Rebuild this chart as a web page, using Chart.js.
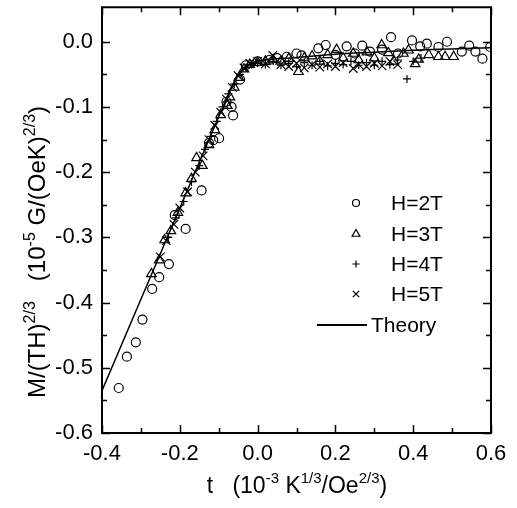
<!DOCTYPE html>
<html>
<head>
<meta charset="utf-8">
<script src="https://cdn.jsdelivr.net/npm/chart.js@4.4.0/dist/chart.umd.min.js"></script>
<style>
  html, body { margin: 0; padding: 0; background: #fff; }
  #wrap { width: 517px; height: 508px; }
</style>
</head>
<body>
<div id="wrap"><canvas id="magChart" width="517" height="508"></canvas></div>
<script>
// data: [t, M/(TH)^2/3]
const h2T = [
  [-0.357,-0.531],[-0.336,-0.483],[-0.313,-0.461],[-0.296,-0.426],[-0.271,-0.379],
  [-0.253,-0.361],[-0.228,-0.341],[-0.213,-0.266],[-0.185,-0.287],[-0.144,-0.228],
  [-0.125,-0.155],[-0.114,-0.151],[-0.099,-0.148],[-0.08,-0.092],[-0.067,-0.100],
  [-0.063,-0.113],[-0.045,-0.058],[-0.03,-0.036],[0.0,-0.030],[0.03,-0.028],
  [0.05,-0.025],[0.075,-0.023],[0.10,-0.018],[0.113,-0.021],[0.156,-0.010],
  [0.175,-0.005],[0.20,-0.020],[0.229,-0.007],[0.25,-0.018],[0.269,-0.006],
  [0.289,-0.015],[0.32,-0.012],[0.343,0.007],[0.361,-0.018],[0.397,0.002],
  [0.418,-0.007],[0.435,-0.003],[0.465,-0.008],[0.487,0.0],[0.525,-0.015],
  [0.544,-0.006],[0.56,-0.015],[0.578,-0.026],[0.598,-0.008]
];
const h3T = [
  [-0.273,-0.356],[-0.253,-0.335],[-0.239,-0.304],[-0.223,-0.290],[-0.205,-0.262],
  [-0.185,-0.232],[-0.17,-0.210],[-0.157,-0.178],[-0.142,-0.190],[-0.125,-0.158],
  [-0.11,-0.135],[-0.095,-0.112],[-0.078,-0.098],[-0.071,-0.085],[-0.06,-0.070],
  [-0.048,-0.055],[-0.035,-0.042],[-0.02,-0.035],[0.0,-0.032],[0.02,-0.030],
  [0.04,-0.028],[0.06,-0.030],[0.08,-0.026],[0.105,-0.046],[0.12,-0.025],
  [0.14,-0.022],[0.16,-0.030],[0.18,-0.020],[0.203,-0.012],[0.22,-0.025],
  [0.246,-0.018],[0.26,-0.028],[0.281,-0.016],[0.30,-0.025],[0.319,-0.005],
  [0.336,-0.017],[0.35,-0.030],[0.375,-0.018],[0.388,-0.013],[0.405,-0.034],
  [0.414,-0.027],[0.44,-0.020],[0.465,-0.023],[0.482,-0.023],[0.504,-0.023]
];
const h4T = [
  [-0.23,-0.300],[-0.21,-0.270],[-0.19,-0.245],[-0.17,-0.215],[-0.15,-0.190],
  [-0.135,-0.165],[-0.12,-0.145],[-0.105,-0.122],[-0.09,-0.100],[-0.075,-0.080],
  [-0.06,-0.065],[-0.045,-0.050],[-0.03,-0.040],[-0.015,-0.035],[0.0,-0.033],
  [0.02,-0.035],[0.04,-0.030],[0.06,-0.036],[0.08,-0.033],[0.10,-0.038],
  [0.12,-0.032],[0.14,-0.036],[0.16,-0.030],[0.18,-0.037],[0.20,-0.033],
  [0.22,-0.035],[0.24,-0.030],[0.26,-0.036],[0.28,-0.032],[0.30,-0.036],
  [0.32,-0.030],[0.34,-0.035],[0.36,-0.028],[0.384,-0.057],[0.40,-0.030],
  [0.42,-0.025]
];
const h5T = [
  [-0.25,-0.330],[-0.235,-0.305],[-0.215,-0.280],[-0.20,-0.255],[-0.18,-0.230],
  [-0.16,-0.200],[-0.14,-0.175],[-0.125,-0.150],[-0.11,-0.128],[-0.095,-0.108],
  [-0.08,-0.088],[-0.065,-0.070],[-0.05,-0.052],[-0.035,-0.040],[-0.02,-0.033],
  [0.0,-0.030],[0.02,-0.034],[0.039,-0.021],[0.06,-0.035],[0.08,-0.038],
  [0.10,-0.033],[0.12,-0.040],[0.14,-0.035],[0.16,-0.039],[0.18,-0.034],
  [0.20,-0.038],[0.22,-0.032],[0.246,-0.041],[0.26,-0.035],[0.28,-0.038],
  [0.30,-0.033],[0.32,-0.037],[0.34,-0.030],[0.36,-0.035]
];
const theoryT = [-0.4, -0.3, -0.2, -0.1, -0.08, -0.06, -0.04, -0.02, 0.0, 0.1, 0.2, 0.3, 0.4, 0.5, 0.6];
const theoryM = [-0.535, -0.395, -0.255, -0.115, -0.088, -0.062, -0.045, -0.035, -0.030, -0.024, -0.019, -0.016, -0.013, -0.011, -0.009];

const xTicks = [-0.4, -0.2, 0.0, 0.2, 0.4, 0.6];
const yTicks = [-0.6, -0.5, -0.4, -0.3, -0.2, -0.1, 0.0];
const xMinor = [-0.3, -0.1, 0.1, 0.3, 0.5];
const yMinor = [-0.55, -0.45, -0.35, -0.25, -0.15, -0.05];

const FONT = '"Liberation Sans", Arial, Helvetica, sans-serif';
const toXY = arr => arr.map(p => ({ x: p[0], y: p[1] }));
const fmt = v => (Math.abs(v) < 1e-9 ? '0.0' : v.toFixed(1));

// text with superscript pieces, centred on cx
function drawRich(ctx, parts, cx, baseY, size, supSize) {
  let total = 0;
  parts.forEach(p => {
    ctx.font = (p.sup ? supSize : size) + 'px ' + FONT;
    p.w = ctx.measureText(p.t).width;
    total += p.w;
  });
  let x = cx - total / 2;
  ctx.textAlign = 'left';
  ctx.textBaseline = 'alphabetic';
  parts.forEach(p => {
    ctx.font = (p.sup ? supSize : size) + 'px ' + FONT;
    ctx.fillText(p.t, x, baseY - (p.sup ? Math.round(size * 0.42) : 0));
    x += p.w;
  });
}

// box round the plot with inward ticks on all four sides
const framePlugin = {
  id: 'frame',
  afterDraw(chart) {
    const ctx = chart.ctx;
    const a = chart.chartArea;
    const xs = chart.scales.x, ys = chart.scales.y;
    ctx.save();
    ctx.strokeStyle = '#000';
    ctx.lineWidth = 2;
    ctx.beginPath();
    ctx.rect(a.left, a.top, a.right - a.left, a.bottom - a.top);
    ctx.stroke();
    ctx.lineWidth = 1.5;
    ctx.beginPath();
    const tick = (vals, len, isX) => {
      vals.forEach(v => {
        if (isX) {
          const px = Math.round(xs.getPixelForValue(v)) + 0.5;
          ctx.moveTo(px, a.bottom); ctx.lineTo(px, a.bottom - len);
          ctx.moveTo(px, a.top); ctx.lineTo(px, a.top + len);
        } else {
          const py = Math.round(ys.getPixelForValue(v)) + 0.5;
          ctx.moveTo(a.left, py); ctx.lineTo(a.left + len, py);
          ctx.moveTo(a.right, py); ctx.lineTo(a.right - len, py);
        }
      });
    };
    tick(xTicks, 8, true);
    tick(xMinor, 5, true);
    tick(yTicks, 8, false);
    tick(yMinor, 5, false);
    ctx.stroke();
    ctx.restore();
  }
};

const legendPlugin = {
  id: 'innerLegend',
  afterDraw(chart) {
    const ctx = chart.ctx;
    const rows = [203, 234, 264, 294];
    const styles = ['circle', 'triangle', 'cross', 'crossRot'];
    const radii = [3.5, 4.5, 3.5, 4.5];
    const labels = ['H=2T', 'H=3T', 'H=4T', 'H=5T'];
    ctx.save();
    ctx.strokeStyle = '#000';
    rows.forEach((ry, i) => {
      ctx.fillStyle = 'rgba(0,0,0,0)';
      ctx.lineWidth = 1.2;
      Chart.helpers.drawPoint(ctx, {
        pointStyle: styles[i], radius: radii[i], borderWidth: 1.2, rotation: 0
      }, 356, ry);
      ctx.fillStyle = '#000';
      ctx.font = '21px ' + FONT;
      ctx.textBaseline = 'middle';
      ctx.textAlign = 'left';
      ctx.fillText(labels[i], 391, ry + 1);
    });
    ctx.lineWidth = 2;
    ctx.beginPath();
    ctx.moveTo(317, 325); ctx.lineTo(367, 325);
    ctx.stroke();
    ctx.fillText('Theory', 371, 326);

    // axis titles
    drawRich(ctx, [
      { t: 't   (10' }, { t: '-3', sup: true }, { t: ' K' }, { t: '1/3', sup: true },
      { t: '/Oe' }, { t: '2/3', sup: true }, { t: ')' }
    ], 297, 493, 23, 15);
    ctx.translate(45, 252);
    ctx.rotate(-Math.PI / 2);
    drawRich(ctx, [
      { t: 'M/(TH)' }, { t: '2/3', sup: true }, { t: '   (10' }, { t: '-5', sup: true },
      { t: ' G/(OeK)' }, { t: '2/3', sup: true }, { t: ')' }
    ], 0, 0, 24, 16);
    ctx.restore();
  }
};

const markerBase = {
  showLine: false,
  borderColor: '#000',
  backgroundColor: 'rgba(0,0,0,0)',
  borderWidth: 1.2
};

new Chart(document.getElementById('magChart').getContext('2d'), {
  type: 'scatter',
  data: {
    datasets: [
      Object.assign({ label: 'H=2T', data: toXY(h2T), pointStyle: 'circle', pointRadius: 4.5 }, markerBase),
      Object.assign({ label: 'H=3T', data: toXY(h3T), pointStyle: 'triangle', pointRadius: 5.5 }, markerBase),
      Object.assign({ label: 'H=4T', data: toXY(h4T), pointStyle: 'cross', pointRadius: 4 }, markerBase),
      Object.assign({ label: 'H=5T', data: toXY(h5T), pointStyle: 'crossRot', pointRadius: 6 }, markerBase),
      {
        label: 'Theory',
        type: 'line',
        data: theoryT.map((t, i) => ({ x: t, y: theoryM[i] })),
        borderColor: '#000',
        borderWidth: 1.5,
        pointRadius: 0,
        fill: false,
        cubicInterpolationMode: 'monotone'
      }
    ]
  },
  options: {
    responsive: false,
    animation: false,
    devicePixelRatio: 1,
    layout: { padding: { top: 5, right: 26, left: 0, bottom: 0 } },
    plugins: { legend: { display: false }, tooltip: { enabled: false } },
    scales: {
      x: {
        type: 'linear',
        min: -0.4, max: 0.6,
        grid: { display: false, drawTicks: false },
        border: { display: false },
        afterBuildTicks: s => { s.ticks = xTicks.map(v => ({ value: v })); },
        afterFit: s => { s.height = 75; s.paddingLeft = 0; s.paddingRight = 0; },
        ticks: {
          color: '#000', padding: 8,
          font: { family: FONT, size: 22 },
          maxRotation: 0, autoSkip: false,
          callback: v => fmt(v)
        }
      },
      y: {
        type: 'linear',
        min: -0.6, max: 0.053,
        grid: { display: false, drawTicks: false },
        border: { display: false },
        afterBuildTicks: s => { s.ticks = yTicks.map(v => ({ value: v })); },
        afterFit: s => { s.width = 102; s.paddingTop = 0; s.paddingBottom = 0; },
        ticks: {
          color: '#000', padding: 9,
          font: { family: FONT, size: 22 },
          autoSkip: false,
          callback: v => fmt(v)
        }
      }
    }
  },
  plugins: [framePlugin, legendPlugin]
});
</script>
</body>
</html>
